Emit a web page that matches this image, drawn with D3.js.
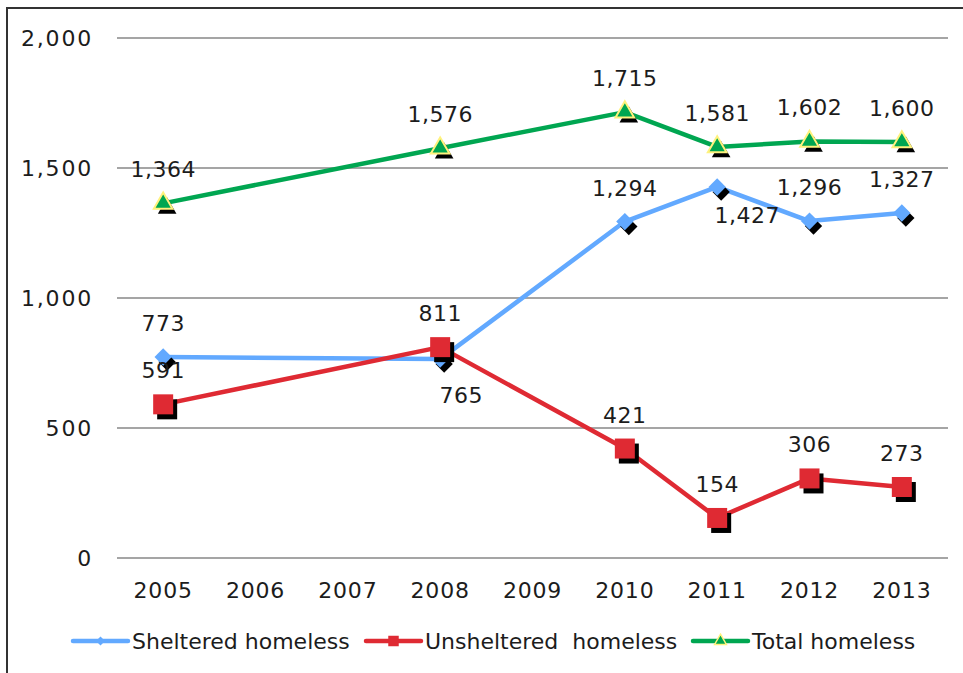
<!DOCTYPE html>
<html>
<head>
<meta charset="utf-8">
<script src="https://cdn.jsdelivr.net/npm/d3@7"></script>
<style>
  body { margin: 0; background: #fff; }
  text { font-family: "DejaVu Sans", Verdana, sans-serif; fill: #1c1c1c; }
</style>
</head>
<body>
<div id="chart"></div>
<script>
// categories on the axis, and the years that actually have counts
var years = ["2005", "2006", "2007", "2008", "2009", "2010", "2011", "2012", "2013"];
var countYears = ["2005", "2008", "2010", "2011", "2012", "2013"];

var sheltered   = [773, 765, 1294, 1427, 1296, 1327];
var unsheltered = [591, 811, 421, 154, 306, 273];
var total       = [1364, 1576, 1715, 1581, 1602, 1600];

var yTicks = [0, 500, 1000, 1500, 2000];

var seriesNames = ["Sheltered homeless", "Unsheltered  homeless", "Total homeless"];

drawChart();

function drawChart() {
    var W = 963, H = 673;
    var fmt = d3.format(",");

    var svg = d3.select("#chart").append("svg")
	.attr("width", W)
	.attr("height", H);

    // outer frame (only top and left edges fall inside the picture)
    svg.append("rect")
	.attr("x", 7).attr("y", 8)
	.attr("width", 1000).attr("height", 700)
	.attr("fill", "none")
	.attr("stroke", "#333")
	.attr("stroke-width", 2);

    var xScale = d3.scaleBand()
	.domain(years)
	.range([117, 948]);

    var yScale = d3.scaleLinear()
	.domain([0, 2000])
	.range([558, 38]);

    function cx(year) { return xScale(year) + xScale.bandwidth() / 2; }

    // gridlines
    svg.append("g")
	.selectAll("line")
	.data(yTicks)
	.join("line")
	.attr("x1", 117).attr("x2", 948)
	.attr("y1", function(d) { return yScale(d); })
	.attr("y2", function(d) { return yScale(d); })
	.attr("stroke", "#878787")
	.attr("stroke-width", 1.6);

    // y axis labels
    var yAxis = svg.append("g")
	.attr("transform", "translate(117,0)")
	.call(d3.axisLeft(yScale).tickValues(yTicks).tickFormat(fmt).tickSize(0).tickPadding(24));
    yAxis.select(".domain").remove();
    yAxis.selectAll("text")
	.attr("dy", "0.36em")
	.style("font-size", "22px")
	.style("letter-spacing", "1.8px")
	.style("font-family", null);

    // x axis labels
    var xAxis = svg.append("g")
	.attr("transform", "translate(0,558)")
	.call(d3.axisBottom(xScale).tickSize(0).tickPadding(24));
    xAxis.select(".domain").remove();
    xAxis.selectAll("text")
	.attr("dy", "0.71em")
	.style("font-size", "22px")
	.style("letter-spacing", "0.8px")
	.style("font-family", null);

    var diamond = d3.symbol().type(d3.symbolSquare);
    var square = d3.symbol().type(d3.symbolSquare);
    var tri = d3.symbol().type(d3.symbolTriangle);

    var series = [
	{name: seriesNames[0], values: sheltered, color: "#62A9FF",
	 marker: diamond.size(150)(), rotate: 45, stroke: "none", legendMarker: diamond.size(40)()},
	{name: seriesNames[1], values: unsheltered, color: "#DF2A33",
	 marker: square.size(400)(), rotate: 0, stroke: "none", legendMarker: square.size(110)()},
	{name: seriesNames[2], values: total, color: "#00A651",
	 marker: tri.size(150)(), rotate: 0, stroke: "#FFF27E", legendMarker: tri.size(60)()}
    ];

    // labels that Excel moved under the point
    var nudges = {
	"Sheltered homeless": {"2008": [21, 44], "2011": [30, 36]}
    };

    var line = d3.line()
	.x(function(d) { return cx(d.year); })
	.y(function(d) { return yScale(d.value); });

    series.forEach(function(s) {
	var pts = countYears.map(function(y, i) { return {year: y, value: s.values[i]}; });
	var g = svg.append("g");

	g.append("path")
	    .datum(pts)
	    .attr("d", line)
	    .attr("fill", "none")
	    .attr("stroke", s.color)
	    .attr("stroke-width", 4.5)
	    .attr("stroke-linejoin", "round");

	// marker shadows
	g.selectAll(".shadow")
	    .data(pts)
	    .join("path")
	    .attr("class", "shadow")
	    .attr("d", s.marker)
	    .attr("fill", "#000")
	    .attr("transform", function(d) {
		return "translate(" + (cx(d.year) + 4) + "," + (yScale(d.value) + 5) + ") rotate(" + s.rotate + ")";
	    });

	g.selectAll(".marker")
	    .data(pts)
	    .join("path")
	    .attr("class", "marker")
	    .attr("d", s.marker)
	    .attr("fill", s.color)
	    .attr("stroke", s.stroke)
	    .attr("stroke-width", 2)
	    .attr("transform", function(d) {
		return "translate(" + cx(d.year) + "," + yScale(d.value) + ") rotate(" + s.rotate + ")";
	    });
	s.pts = pts;
    });

    // data labels on top
    series.forEach(function(s) {
	var nudge = nudges[s.name] || {};
	svg.append("g")
	    .selectAll("text")
	    .data(s.pts)
	    .join("text")
	    .attr("x", function(d) { return cx(d.year) + (nudge[d.year] ? nudge[d.year][0] : 0); })
	    .attr("y", function(d) { return yScale(d.value) + (nudge[d.year] ? nudge[d.year][1] : -26); })
	    .attr("text-anchor", "middle")
	    .style("font-size", "22px")
	    .style("letter-spacing", "0.5px")
	    .text(function(d) { return fmt(d.value); });
    });

    // legend
    var legendX = [73, 366, 693];
    var leg = svg.append("g").attr("transform", "translate(0,641)");
    series.forEach(function(s, i) {
	var lg = leg.append("g").attr("transform", "translate(" + legendX[i] + ",0)");
	lg.append("line")
	    .attr("x1", 0).attr("x2", 55)
	    .attr("stroke", s.color)
	    .attr("stroke-width", 4.5)
	    .attr("stroke-linecap", "round");
	lg.append("path")
	    .attr("d", s.legendMarker)
	    .attr("fill", s.color)
	    .attr("stroke", s.stroke)
	    .attr("stroke-width", 1.5)
	    .attr("transform", "translate(27.5,0) rotate(" + s.rotate + ")");
	lg.append("text")
	    .attr("x", 59)
	    .attr("y", 8)
	    .style("font-size", "22px")
	    .style("white-space", "pre")
	    .text(s.name);
    });
}
</script>
</body>
</html>
